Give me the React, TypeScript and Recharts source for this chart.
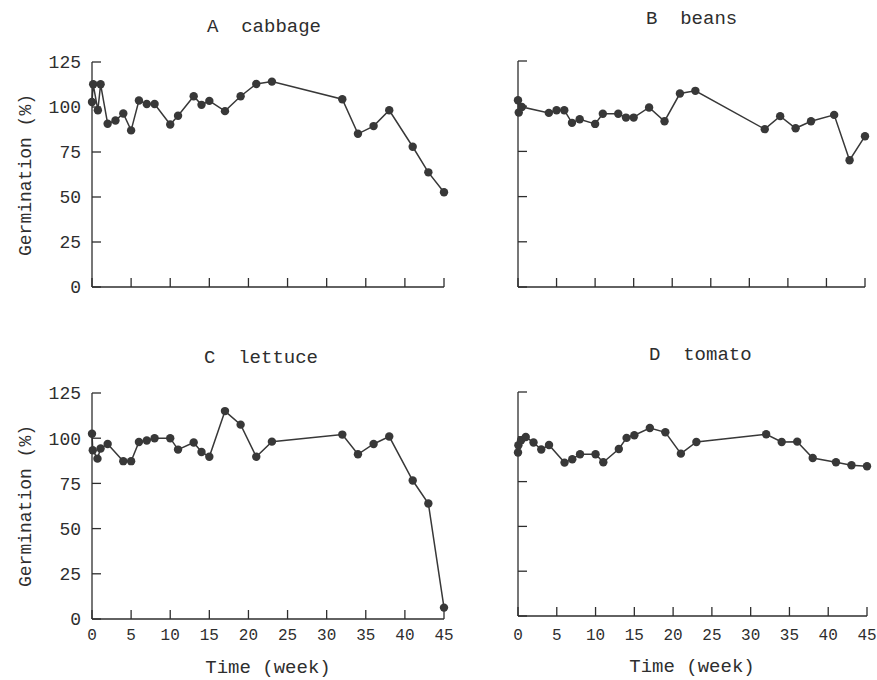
import { LineChart, Line, XAxis, YAxis } from 'recharts'

// Germination (%) vs time (week)
const cabbageWeeks = [0, 0.15, 0.75, 1.1, 2, 3, 4, 5, 6, 7, 8, 10, 11, 13, 14, 15, 17, 19, 21, 23, 32, 34, 36, 38, 41, 43, 45]
const cabbageGerm  = [102.8, 112.6, 98.2, 112.6, 90.7, 92.5, 96.4, 87, 103.6, 101.7, 101.7, 90.3, 95.1, 106, 101.2, 103.4, 97.7, 106, 112.8, 114.1, 104.3, 85.1, 89.4, 98.2, 77.9, 63.7, 52.6]

const beansWeeks = [0, 0.1, 0.5, 4, 5, 6, 7, 8, 10, 11, 13, 14, 15, 17, 19, 21, 23, 32, 34, 36, 38, 41, 43, 45]
const beansGerm  = [103.3, 96.5, 99.6, 96.3, 97.8, 97.8, 90.8, 92.8, 90.2, 95.8, 95.8, 93.7, 93.7, 99.3, 91.7, 107, 108.5, 87.3, 94.5, 87.8, 91.7, 95.2, 70.1, 83.4]

const lettuceWeeks = [0, 0.1, 0.7, 1.1, 2, 4, 5, 6, 7, 8, 10, 11, 13, 14, 15, 17, 19, 21, 23, 32, 34, 36, 38, 41, 43, 45]
const lettuceGerm  = [102.5, 93.3, 88.7, 94.3, 96.8, 87.3, 87.3, 97.9, 98.7, 100, 100, 93.7, 97.6, 92.4, 89.7, 115, 107.5, 89.7, 98.1, 102, 91.1, 96.8, 100.9, 76.6, 63.9, 6.3]

const tomatoWeeks = [0, 0.05, 0.4, 1, 2, 3, 4, 6, 7, 8, 10, 11, 13, 14, 15, 17, 19, 21, 23, 32, 34, 36, 38, 41, 43, 45]
const tomatoGerm  = [91.2, 95.3, 98.1, 99.9, 96.8, 92.9, 95.4, 85.6, 87.5, 90.3, 90.3, 85.8, 93.2, 99.4, 100.9, 104.9, 102.5, 90.6, 97.1, 101.4, 97.1, 97.3, 88.2, 85.8, 84.1, 83.6]

const xTicks = [0, 5, 10, 15, 20, 25, 30, 35, 40, 45]
const yTicks = [0, 25, 50, 75, 100, 125]

const FONT = '"Liberation Mono", "DejaVu Sans Mono", monospace'
const INK = '#2e2e2e'

const zip = (xs: number[], ys: number[]) => xs.map((w, i) => ({ week: w, germ: ys[i] }))

interface PanelProps {
  left: number
  top: number
  width: number
  height: number
  margin: { top: number; right: number; bottom: number; left: number }
  yWidth: number
  xHeight: number
  data: { week: number; germ: number }[]
  xLabels?: boolean
  yLabels?: boolean
  xTickMargin?: number
}

function Panel({ left, top, width, height, margin, yWidth, xHeight, data, xLabels, yLabels, xTickMargin = 19 }: PanelProps) {
  const blank = () => ''
  return (
    <div style={{ position: 'absolute', left, top }}>
      <LineChart width={width} height={height} data={data} margin={margin}>
        <XAxis
          dataKey="week" type="number" domain={[0, 45]} ticks={xTicks}
          height={xHeight}
          axisLine={{ stroke: INK, strokeWidth: 1.3 }}
          tickLine={{ stroke: INK, strokeWidth: 1.3 }}
          tickSize={-9} tickMargin={xTickMargin}
          tick={{ fill: INK, fontSize: 16, fontFamily: FONT }}
          tickFormatter={xLabels ? undefined : blank}
          interval={0}
        />
        <YAxis
          type="number" domain={[0, 125]} ticks={yTicks}
          width={yWidth}
          axisLine={{ stroke: INK, strokeWidth: 1.3 }}
          tickLine={{ stroke: INK, strokeWidth: 1.3 }}
          tickSize={-9} tickMargin={20}
          tick={{ fill: INK, fontSize: 18, fontFamily: FONT }}
          tickFormatter={yLabels ? undefined : blank}
          interval={0}
        />
        <Line
          dataKey="germ"
          type="linear"
          stroke="#383838"
          strokeWidth={1.5}
          dot={{ r: 4.2, fill: '#383838', stroke: 'none' }}
          activeDot={false}
          isAnimationActive={false}
        />
      </LineChart>
    </div>
  )
}

export default function App() {
  const txt = { fill: INK, fontFamily: FONT, whiteSpace: 'pre' as const }
  return (
    <div style={{ position: 'absolute', left: 0, top: 0, width: 877, height: 680, background: '#fff' }}>
      <Panel
        left={0} top={0} width={460} height={330}
        margin={{ top: 62, right: 16, bottom: 13, left: 0 }}
        yWidth={92} xHeight={30}
        data={zip(cabbageWeeks, cabbageGerm)} yLabels
      />
      <Panel
        left={460} top={0} width={417} height={330}
        margin={{ top: 61, right: 12, bottom: 13, left: 0 }}
        yWidth={58} xHeight={30}
        data={zip(beansWeeks, beansGerm)}
      />
      <Panel
        left={0} top={330} width={460} height={350}
        margin={{ top: 63, right: 16, bottom: 0, left: 0 }}
        yWidth={92} xHeight={61}
        data={zip(lettuceWeeks, lettuceGerm)} xLabels yLabels xTickMargin={19}
      />
      <Panel
        left={460} top={330} width={417} height={350}
        margin={{ top: 62, right: 10, bottom: 0, left: 0 }}
        yWidth={58} xHeight={64}
        data={zip(tomatoWeeks, tomatoGerm)} xLabels xTickMargin={22}
      />
      <svg width={877} height={680} style={{ position: 'absolute', left: 0, top: 0, pointerEvents: 'none' }}>
        <text x={207} y={32} fontSize={19} style={txt}>A  cabbage</text>
        <text x={646} y={24} fontSize={19} style={txt}>B  beans</text>
        <text x={204} y={363} fontSize={19} style={txt}>C  lettuce</text>
        <text x={649} y={360} fontSize={19} style={txt}>D  tomato</text>
        <text x={31} y={175} fontSize={18} textAnchor="middle" transform="rotate(-90 31 175)" style={txt}>Germination (%)</text>
        <text x={31} y={506} fontSize={18} textAnchor="middle" transform="rotate(-90 31 506)" style={txt}>Germination (%)</text>
        <text x={268} y={673} fontSize={19} textAnchor="middle" style={txt}>Time (week)</text>
        <text x={692} y={672} fontSize={19} textAnchor="middle" style={txt}>Time (week)</text>
      </svg>
    </div>
  )
}
